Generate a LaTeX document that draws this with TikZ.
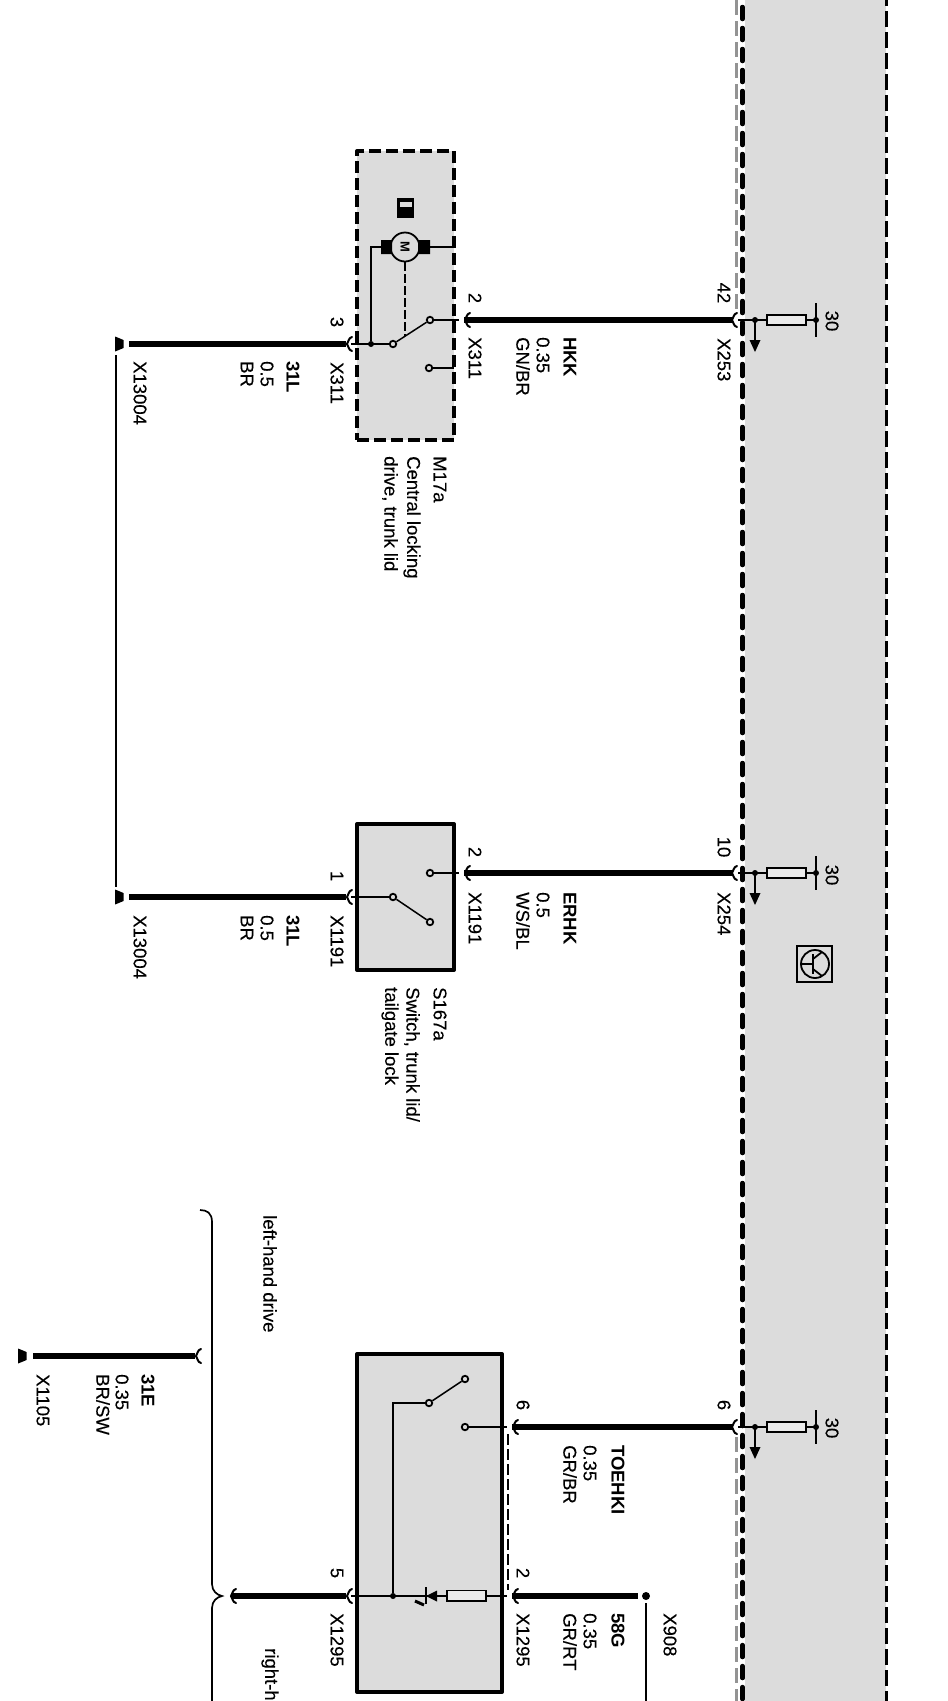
\documentclass[tikz,border=0pt]{standalone}
\usepackage{fontspec}
\setmainfont{Liberation Sans}
\newfontfamily\lblfont[FakeBold=0.25]{Liberation Sans}
\tikzset{
  lbl/.style={rotate=-90,anchor=west,inner sep=0pt,font=\fontsize{18.5}{20}\selectfont\lblfont},
  blbl/.style={rotate=-90,anchor=west,inner sep=0pt,font=\fontsize{18.5}{20}\selectfont\bfseries},
  wire/.style={line width=6pt},
  thinw/.style={line width=1.5pt},
  bandline/.style={line width=4.5pt,line cap=round,dash pattern=on 12pt off 9pt},
  boxfill/.style={fill=bandgrey,line width=4pt,line join=round,outer sep=0pt},
  res/.style={fill=bandgrey!60!white,draw=black,line width=1.8pt},
  cont/.style={circle,draw=black,fill=bandgrey,line width=1.8pt,minimum size=6.5pt,inner sep=0pt},
  jdot/.style={circle,fill=black,minimum size=6pt,inner sep=0pt},
  plug/.pic={\draw[white,line width=4pt] (6,-7) .. controls (2,-6) and (3,-2) .. (1,0) .. controls (3,2) and (2,6) .. (6,7);
    \draw[line width=2pt,line cap=round] (5,-7) .. controls (1,-6) and (2,-2) .. (0,0) .. controls (2,2) and (1,6) .. (5,7);},
  gnd/.pic={\fill (-4,-7.5) -- (-4,7.5) .. controls (0,6) and (2,5) .. (4.5,4) -- (4.5,-4) .. controls (2,-5) and (0,-6) .. cycle;},
  feed/.pic={
    \draw[thinw] (0,0) -- (78,0);
    \fill (17,0) circle (3pt) (78,0) circle (3pt);
    \draw[thinw] (17,0) -- (17,22);
    \fill (11.5,20) -- (22.5,20) -- (17,32) -- cycle;
    \draw[res] (29,-5.3) rectangle (68,5);
    \draw[thinw] (78,-17) -- (78,17);
  }
}
\definecolor{bandgrey}{HTML}{DCDCDC}
\begin{document}
\begin{tikzpicture}[x=1pt,y=-1pt]
\useasboundingbox (0,0) rectangle (948,1701);
% band
\fill[bandgrey] (745,0) rectangle (886,1701);
\coordinate (gt) at (736,0); \coordinate (gm) at (736,312);
\coordinate (gn) at (736,1437); \coordinate (gb) at (736,1701);
\draw[line width=3pt,gray!85,dash pattern=on 15pt off 6pt] (gt) -- (gm) (gn) -- (gb);
\coordinate (bt) at (742.5,0); \coordinate (bb) at (742.5,1701);
\coordinate (rt) at (886.5,0); \coordinate (rb) at (886.5,1701);
\draw[bandline,dash phase=14pt] (bt) -- (bb);
\draw[line width=3.5pt,dash pattern=on 16pt off 5pt,dash phase=10pt] (rt) -- (rb);

% boxes
\node[draw,dash pattern=on 12pt off 5pt,boxfill,minimum width=97pt,minimum height=289pt,anchor=north west,inner sep=0pt] (m17) at (357,151) {};
\node[draw,boxfill,minimum width=97pt,minimum height=146pt,anchor=north west,inner sep=0pt] (s167) at (357,824) {};
\node[draw,boxfill,minimum width=145pt,minimum height=338pt,anchor=north west,inner sep=0pt] (x1295box) at (357,1354) {};

% row 1: feeds at control unit
\coordinate (f1) at (738,320); \coordinate (f2) at (738,873); \coordinate (f3) at (738,1427);
\pic at (732,320) {plug}; \pic at (732,873) {plug}; \pic at (732,1427) {plug};
\pic at (f1) {feed}; \pic at (f2) {feed}; \pic at (f3) {feed};
\node[lbl,anchor=center] (t30a) at (832,321) {30};
\node[lbl,anchor=center] (t30b) at (832,875) {30};
\node[lbl,anchor=center] (t30c) at (832,1428) {30};
\node[lbl,anchor=center] (p42) at (724,293) {42};
\node[lbl,anchor=center] (p10) at (724,847) {10};
\node[lbl,anchor=center] (p6a) at (724,1405) {6};
\node[lbl] (x253) at (724,338) {X253};
\node[lbl] (x254) at (724,892) {X254};

% M17a
\coordinate (c2) at (464,320); \coordinate (c1) at (732,320);
\begin{scope}[xscale=-1]\pic at (-465,320) {plug};\end{scope}
\draw[wire] (c2) -- (c1);
\node[cont] (sw1) at (430,320) {};
\node[cont] (sw2) at (393,344) {};
\node[cont] (sw3) at (429,368) {};
\coordinate (m2r) at (459,320); \coordinate (m3r) at (454,368);
\draw[thinw] (sw1) -- (m2r);
\draw[thinw] (sw3) -- (m3r);
\draw[thinw] (sw1) -- (sw2);
\coordinate (m3l) at (351,344);
\node[jdot] (j1) at (371,344) {};
\draw[thinw] (sw2) -- (m3l);
\node[circle,draw,fill=bandgrey,line width=1.8pt,minimum size=29pt,inner sep=0pt,font=\fontsize{13}{13}\selectfont\bfseries] (mot) at (405,247) {\rotatebox{-90}{M}};
\fill (381,240) rectangle (392,254) (418,240) rectangle (430,254);
\coordinate (bl) at (381,247); \coordinate (br) at (430,247); \coordinate (bre) at (454,247);
\draw[line width=1.8pt] (j1) |- (bl);
\draw[line width=1.8pt] (br) -- (bre);
\draw[line width=1.6pt,dash pattern=on 9pt off 3pt] (mot.south) -- (405,336);
\fill (397,198) rectangle (414,218);
\fill[bandgrey] (400,202) rectangle (412,207);
\coordinate (w3a) at (129,344); \coordinate (w3b) at (346,344);
\draw[wire] (w3a) -- (w3b);
\pic at (347,344) {plug};
\pic at (119,344) {gnd};
\node[lbl,anchor=center] (p2a) at (475,298) {2};
\node[lbl,anchor=center] (p3) at (337,322) {3};
\node[lbl] (x311r) at (475,337) {X311};
\node[lbl] (x311l) at (337,362) {X311};
\node[blbl] (hkk) at (570,337) {HKK};
\node[lbl] (hkks) at (543,337) {0.35};
\node[lbl] (hkkc) at (523,337) {GN/BR};
\node[blbl] (l31a) at (293,361) {31L};
\node[lbl] (l31as) at (267,361) {0.5};
\node[lbl] (l31ac) at (247,361) {BR};
\node[lbl] (gnd1) at (140,361) {X13004};
\node[lbl] (m17a) at (440,456) {M17a};
\node[lbl] (m17b) at (412,456) {Central locking};
\node[lbl] (m17c) at (390,456) {drive, trunk lid};

% S167a
\coordinate (e2) at (464,873); \coordinate (e1) at (732,873);
\begin{scope}[xscale=-1]\pic at (-465,873) {plug};\end{scope}
\draw[wire] (e2) -- (e1);
\node[cont] (ss1) at (430,873) {};
\node[cont] (ss2) at (393,897) {};
\node[cont] (ss3) at (430,922) {};
\coordinate (sr) at (459,873); \coordinate (sl) at (351,897);
\draw[line width=2pt] (ss1) -- (sr);
\draw[thinw] (ss2) -- (sl);
\draw[thinw] (ss2) -- (ss3);
\coordinate (w1a) at (129,897); \coordinate (w1b) at (346,897);
\draw[wire] (w1a) -- (w1b);
\pic at (347,897) {plug};
\pic at (119,897) {gnd};
\coordinate (g1) at (116,355); \coordinate (g2) at (116,887);
\draw[line width=1.4pt] (g1) -- (g2);
\node[lbl,anchor=center] (p2b) at (475,852) {2};
\node[lbl,anchor=center] (p1) at (337,876) {1};
\node[lbl] (x1191r) at (475,892) {X1191};
\node[lbl] (x1191l) at (337,915) {X1191};
\node[blbl] (erhk) at (570,892) {ERHK};
\node[lbl] (erhks) at (543,892) {0.5};
\node[lbl] (erhkc) at (523,892) {WS/BL};
\node[blbl] (l31b) at (293,915) {31L};
\node[lbl] (l31bs) at (267,915) {0.5};
\node[lbl] (l31bc) at (247,915) {BR};
\node[lbl] (gnd2) at (140,915) {X13004};
\node[lbl] (s167a) at (440,987) {S167a};
\node[lbl] (s167b) at (412,987) {Switch, trunk lid/};
\node[lbl] (s167c) at (390,987) {tailgate lock};

% transistor symbol
\node[draw,line width=1.8pt,minimum width=35pt,minimum height=36pt,inner sep=0pt,outer sep=0pt] (tsq) at (814.5,964) {};
\node[circle,draw,line width=1.8pt,minimum size=28pt,inner sep=0pt] (tci) at (815,964) {};
\coordinate (tb) at (813,964);
\draw[line width=1.3pt] (tci.west) -- (tb);
\draw[line width=2.2pt] (813,954) -- (813,974);
\draw[line width=1.8pt] (813,959) -- (822,952) (813,969) -- (822,976);

% X1295 unit
\coordinate (t2) at (512,1427); \coordinate (t1) at (732,1427);
\begin{scope}[xscale=-1]\pic at (-513,1427) {plug};\end{scope}
\draw[wire] (t2) -- (t1);
\node[cont] (u1) at (465,1427) {};
\node[cont] (u2) at (429,1403) {};
\node[cont] (u3) at (465,1379) {};
\coordinate (ur) at (507,1427);
\draw[thinw] (u1) -- (ur);
\draw[thinw] (u2) -- (u3);
\node[jdot] (j2) at (393,1596) {};
\draw[line width=2.6pt] (u2) -| (j2);
\coordinate (ld) at (351,1596); \coordinate (rd) at (507,1596);
\draw[thinw] (ld) -- (rd);
\fill (426,1596) -- (437,1590.5) -- (437,1601.5) -- cycle;
\draw[line width=2.4pt] (426,1587) -- (426,1604);
\draw[line width=3pt] (424,1605) -- (415,1601);
\draw[res] (447,1590.5) rectangle (486,1601);
\draw[thinw,dash pattern=on 11pt off 4pt] (508,1434) -- (508,1590);
\coordinate (g58a) at (512,1596); \coordinate (g58b) at (638,1596);
\begin{scope}[xscale=-1]\pic at (-513,1596) {plug};\end{scope}
\draw[wire] (g58a) -- (g58b);
\node[circle,fill=black,minimum size=8pt,inner sep=0pt] (x908d) at (646,1596) {};
\coordinate (x908e) at (646,1701);
\draw[line width=1.4pt] ([yshift=-3pt]x908d.south) -- (x908e);
\pic at (347,1596) {plug};
\pic at (231,1596) {plug};
\coordinate (w5a) at (232,1596); \coordinate (w5b) at (346,1596);
\draw[wire] (w5a) -- (w5b);
\node[lbl,anchor=center] (p6b) at (523,1405) {6};
\node[lbl,anchor=center] (p2c) at (523,1573) {2};
\node[lbl,anchor=center] (p5) at (337,1573) {5};
\node[lbl] (x1295r) at (523,1613) {X1295};
\node[lbl] (x1295l) at (337,1613) {X1295};
\node[lbl] (x908) at (670,1613) {X908};
\node[blbl] (toe) at (618,1445) {TOEHKI};
\node[lbl] (toes) at (590,1445) {0.35};
\node[lbl] (toec) at (570,1445) {GR/BR};
\node[blbl] (g58) at (618,1613) {58G};
\node[lbl] (g58s) at (590,1613) {0.35};
\node[lbl] (g58c) at (570,1613) {GR/RT};

% left-hand drive part
\coordinate (w31a) at (33,1356); \coordinate (w31b) at (195,1356);
\begin{scope}[xscale=-1]\pic at (-196,1356) {plug};\end{scope}
\draw[wire] (w31a) -- (w31b);
\pic at (22,1356) {gnd};
\node[blbl] (e31) at (148,1374) {31E};
\node[lbl] (e31s) at (122,1374) {0.35};
\node[lbl] (e31c) at (103,1374) {BR/SW};
\node[lbl] (x1105) at (43,1374) {X1105};
\node[lbl] (lhd) at (270,1215) {left-hand drive};
\node[lbl] (rhd) at (270,1648) {right-h};
\coordinate (br1) at (200,1210); \coordinate (br2) at (222,1596); \coordinate (br3) at (212,1701);
\draw[line width=1.7pt] (br1) .. controls (207,1210) and (212,1213) .. (212,1222) -- (212,1584) .. controls (212,1591) and (217,1595) .. (br2) .. controls (217,1597) and (212,1601) .. (212,1608) -- (br3);
\end{tikzpicture}
\end{document}
